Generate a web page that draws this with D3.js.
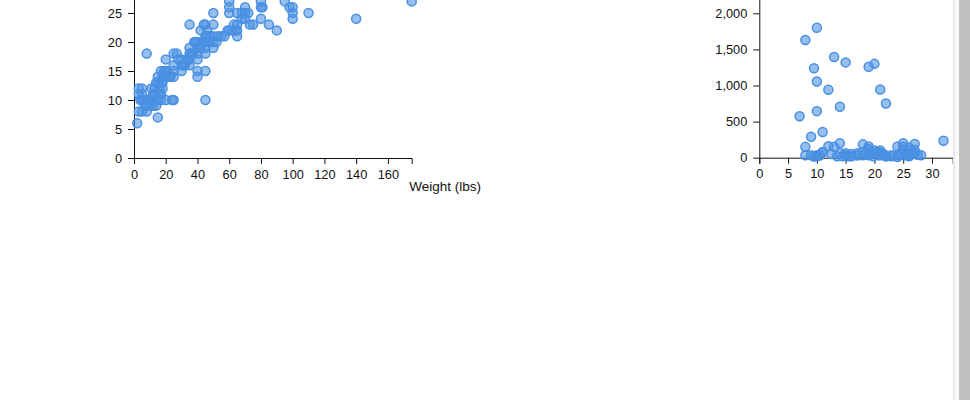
<!DOCTYPE html>
<html>
<head>
<meta charset="utf-8">
<script src="https://cdn.jsdelivr.net/npm/d3@7"></script>
<style>
  html, body { margin: 0; padding: 0; background: #fff; overflow: hidden; }
  #wrap { position: relative; width: 970px; height: 400px; }
  svg { position: absolute; left: 0; top: 0; }
  .tick text { font-family: "Liberation Sans", Arial, sans-serif; font-size: 12.8px; fill: #111; }
  .lbl { font-family: "Liberation Sans", Arial, sans-serif; font-size: 13.5px; fill: #111; }
  #sb-line { position: absolute; left: 953px; top: 0; width: 2px; height: 400px; background: #e8e8e8; }
  #sb-track { position: absolute; left: 955px; top: 0; width: 4px; height: 400px; background: #fafafa; }
  #sb-thumb { position: absolute; left: 959px; top: 0; width: 11px; height: 400px; background: #c1c1c1; }
</style>
</head>
<body>
<div id="wrap">
  <svg id="chart" width="970" height="400"></svg>
  <div id="sb-line"></div><div id="sb-track"></div><div id="sb-thumb"></div>
</div>
<script>
// Left chart: weight (lbs) vs height
const weightValues = [175,140,110,100,100,100,95,90,85,80,80,80,75,73,70,70,70,65,65,65,65,60,59,60,60,60,55,53,50,50,50,50,50,45,45,45,45,45,44,45,45,42,40,40,40,40,40,40,35,35,35,35,35,30,30,30,27,25,25,25,25,25,24,20,20,20,17,18,17,16,18,17,17,15,15,14,15,15,13,12,11,12,14,10,10,8,8,8,5,5,5,3,3,3,5,2,22,21,19,33,37,42,43,47,48,46,38,52,63,68,57,31,34,28,32,19,23,36,41,46,62,64,68,72,81,98,44,39,9,7,4,6,11,13,16,18,14,8];
const heightValues = [27,24,25,24,25,26,27,22,23,24,26,27,23,23,24,25,26,21,22,23,25,22,22,25,26,27,21,21,21,20,19,23,25,21,20,19,18,23,23,15,10,22,20,19,18,17,15,14,23,19,18,17,16,17,16,15,18,18,16,15,14,10,10,17,15,10,15,14,13,12,12,11,10,14,13,13,10,7,12,11,12,9,9,10,9,10,9,8,10,11,12,12,11,8,8,6,14,15,15,17,18,19,20,20,21,22,20,20,23,25,21,16,17,17,16,14,14,18,19,21,22,22,24,25,26,26,20,20,10,9,10,10,10,11,11,13,10,18];

// Right chart: x value vs count
const rightXValues = [8,10,13,15,9.5,10,12,19,20,21,22,7,10,14,11,9,32,8,12,13,14,18,19,25,24,27,27,11,21,20,8,9,10,10,9.5,11,14,15,15,16,17,18,19,19.3,20.7,21,22,23,24.2,25,25.2,26,26.2,28.1,23,24,26,22,16,17,20,19,21,25,26,26.5,27,24.5,14.5,12.5,18.5,19.8,13.5,15.5,10.5,25.5,20.5,18,21.5,27.5];
const rightYValues = [1630,1800,1395,1320,1240,1055,940,1260,1300,945,750,575,645,705,355,290,235,150,160,150,200,185,155,200,155,190,105,80,100,60,35,35,35,20,15,75,60,35,60,50,60,35,35,85,35,35,30,35,35,105,35,105,35,35,20,10,20,15,20,30,100,120,70,150,140,60,60,60,20,50,50,20,20,20,30,60,80,80,55,40];

const leftTicksX = [0,20,40,60,80,100,120,140,160];
const leftTicksY = [0,5,10,15,20,25];
const rightTicksX = [0,5,10,15,20,25,30];
const rightTicksY = [0,500,1000,1500,2000];
const xLabelLeft = "Weight (lbs)";

const leftData = weightValues.map((w,i)=>({x:w, y:heightValues[i]}));
const rightData = rightXValues.map((v,i)=>({x:v, y:rightYValues[i]}));

const svg = d3.select("#chart");
const H = 174;
const fillC = "#4a90e2";

function scatter(opts){
  const g = svg.append("g").attr("transform", `translate(${opts.left},${opts.top})`);
  const x = d3.scaleLinear().domain(opts.xDomain).range([0, opts.width]);
  const y = d3.scaleLinear().domain(opts.yDomain).range([H, 0]);
  g.append("g").attr("transform", `translate(0,${H})`)
    .call(d3.axisBottom(x).tickValues(opts.xTicks).tickSizeOuter(6).tickPadding(5.5))
    .call(a => a.selectAll("path,line").attr("stroke", "#111"));
  g.append("g")
    .call(d3.axisLeft(y).tickValues(opts.yTicks).tickFormat(opts.yFormat).tickSizeOuter(0).tickPadding(6))
    .call(a => a.selectAll("path,line").attr("stroke", "#111"));
  g.append("g").selectAll("circle").data(opts.data).join("circle")
    .attr("cx", d => x(d.x)).attr("cy", d => y(d.y)).attr("r", 4.5)
    .attr("fill", fillC).attr("fill-opacity", 0.58)
    .attr("stroke", fillC).attr("stroke-width", 1.5);
  if (opts.xLabel) {
    g.append("text").attr("class","lbl").attr("x", opts.width - 2.5).attr("y", H + 33)
      .text(opts.xLabel);
  }
}

scatter({left:134, top:158 - H, width:277.7, xDomain:[0,175], yDomain:[0,30],
  xTicks:leftTicksX, yTicks:leftTicksY, yFormat:d3.format("d"), data:leftData, xLabel:xLabelLeft});
scatter({left:759.3, top:157.7 - H, width:193.4, xDomain:[0,33.6], yDomain:[0,2410],
  xTicks:rightTicksX, yTicks:rightTicksY, yFormat:d3.format(","), data:rightData});
</script>
</body>
</html>
